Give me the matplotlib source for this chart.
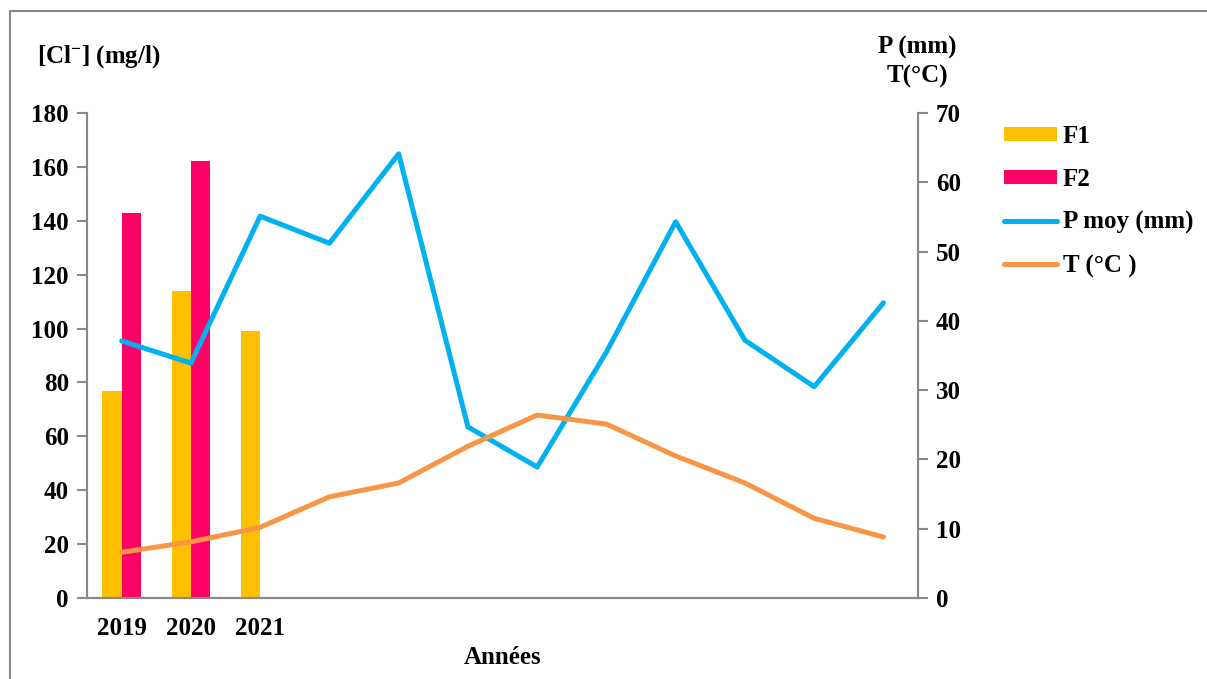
import numpy as np
import matplotlib
matplotlib.use("Agg")
from matplotlib import pyplot as plt
from matplotlib.patches import Rectangle

# Data
categories = ["2019", "2020", "2021", "", "", "", "", "", "", "", "", ""]
f1_values = [77, 114, 99]
f2_values = [143, 162]
p_moy = [37.1, 33.9, 55.1, 51.2, 64.1, 24.7, 18.9, 35.5, 54.3, 37.2, 30.5, 42.6]
temp = [6.6, 8.1, 10.2, 14.6, 16.6, 21.9, 26.4, 25.1, 20.5, 16.6, 11.5, 8.8]

plt.rcParams['font.family'] = ['Liberation Serif', 'DejaVu Serif']
plt.rcParams['font.weight'] = 'bold'
plt.rcParams['mathtext.fontset'] = 'custom'
plt.rcParams['mathtext.rm'] = 'Liberation Serif:bold'
plt.rcParams['mathtext.it'] = 'Liberation Serif:bold'
plt.rcParams['mathtext.bf'] = 'Liberation Serif:bold'

axis_gray = "#898989"
fig = plt.figure(figsize=(12.07, 6.79), dpi=100)
ax = fig.add_axes([0.0721, 0.1193, 0.6885, 0.7143])
ax2 = ax.twinx()

x = np.arange(len(categories))
bw = 0.28
ax.bar(x[:len(f1_values)] - bw / 2, f1_values, width=bw, color="#FFC000", label="F1", zorder=2)
ax.bar(x[:len(f2_values)] + bw / 2, f2_values, width=bw, color="#FF0066", label="F2", zorder=2)

ax2.plot(x, p_moy, color="#00B0F0", lw=3.6, label="P moy (mm)", solid_capstyle="round")
ax2.plot(x, temp, color="#F79646", lw=3.6, label="T (°C )", solid_capstyle="round")

ax.set_xlim(-0.5, len(categories) - 0.5)
ax.set_ylim(0, 180)
ax.set_yticks(np.arange(0, 181, 20))
ax2.set_ylim(0, 70)
ax2.set_yticks(np.arange(0, 71, 10))
ax.set_xticks(x)
ax.set_xticklabels(categories)

for a in (ax, ax2):
    a.spines["top"].set_visible(False)
    for s in ("left", "right", "bottom"):
        a.spines[s].set_color(axis_gray)
        a.spines[s].set_linewidth(1.5)
    a.tick_params(axis="y", colors=axis_gray, labelcolor="black", labelsize=18, length=7, width=1.5, pad=6)
ax.tick_params(axis="x", length=0, labelsize=18, pad=14)

ax.set_xlabel("Années", fontsize=18, fontweight="bold", labelpad=4)

fig.text(37 / 1207, 1 - 57 / 679, r"[Cl$^{\mathdefault{-}}$] (mg/l)", fontsize=18, fontweight="bold",
         va="center", ha="left")
fig.text(917 / 1207, 1 - 62 / 679, "P (mm)\nT(°C)", fontsize=18, fontweight="bold", va="center", ha="center",
         linespacing=1.3)

h1, l1 = ax.get_legend_handles_labels()
h2, l2 = ax2.get_legend_handles_labels()
fig.legend(h1 + h2, l1 + l2, loc="upper left", bbox_to_anchor=(994 / 1207, 1 - 115 / 679), frameon=False,
           prop={"size": 18, "weight": "bold"}, handlelength=2.1, handleheight=0.5, handletextpad=0.25,
           labelspacing=0.8, borderaxespad=0)

# outer chart border
fig.patches.append(Rectangle((10 / 1207, -0.1), 1.2, 1 - 11 / 679 + 0.1, transform=fig.transFigure,
                             fill=False, edgecolor=axis_gray, lw=1.5))

fig.savefig("out.png", dpi=100)
